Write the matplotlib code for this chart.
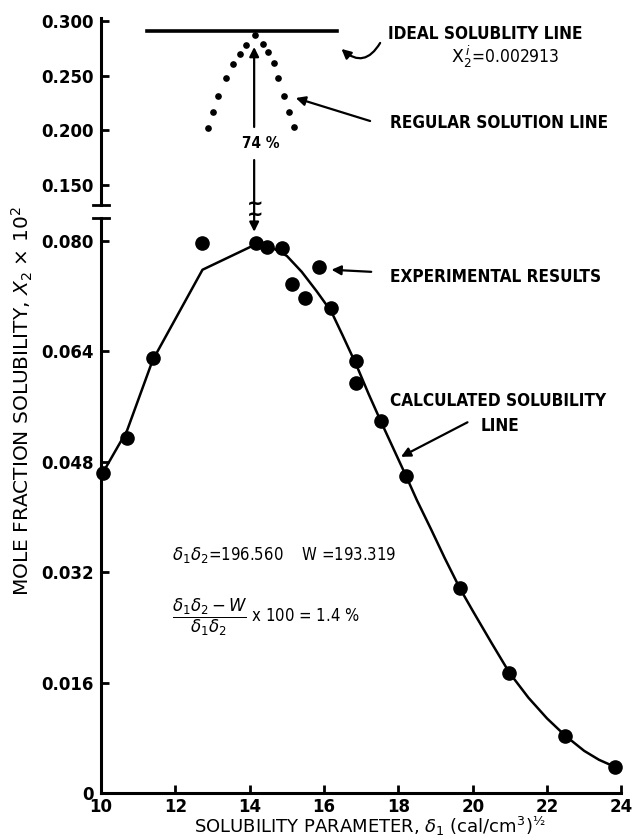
import matplotlib.pyplot as plt

plt.rcParams['font.family'] = ['DejaVu Sans']
plt.rcParams['mathtext.fontset'] = 'dejavusans'

# experimental results (solubility parameter, mole fraction x 10^2)
exp_delta = [10.05, 10.70, 11.39, 12.73, 14.17, 14.46, 14.86, 15.14, 15.50, 15.86,
             16.20, 16.87, 16.87, 17.54, 18.20, 19.65, 20.99, 22.49, 23.82]
exp_x2 = [0.0464, 0.0514, 0.0630, 0.0797, 0.0797, 0.0791, 0.0790, 0.0738, 0.0717, 0.0762,
          0.0703, 0.0626, 0.0594, 0.0539, 0.0459, 0.0297, 0.0174, 0.0083, 0.0038]

# calculated solubility line
calc_delta = [10.05, 10.70, 11.39, 12.73, 14.17, 14.60, 15.00, 15.40, 15.80, 16.20,
              16.50, 16.87, 17.20, 17.54, 17.90, 18.20, 18.50, 18.88, 19.25, 19.65,
              20.00, 20.50, 20.99, 21.50, 22.00, 22.49, 23.00, 23.40, 23.82]
calc_x2 = [0.0464, 0.0525, 0.0627, 0.0758, 0.0795, 0.0790, 0.0778, 0.0755, 0.0727, 0.0697,
           0.0663, 0.0620, 0.0578, 0.0537, 0.0495, 0.0460, 0.0424, 0.0382, 0.0340, 0.0297,
           0.0264, 0.0218, 0.0174, 0.0138, 0.0108, 0.0083, 0.0061, 0.0048, 0.0038]

# regular solution line (dotted)
reg_delta = [12.89, 13.02, 13.16, 13.37, 13.56, 13.74, 13.90, 14.14,
             14.36, 14.49, 14.65, 14.76, 14.92, 15.05, 15.19]
reg_x2 = [0.2018, 0.2165, 0.2312, 0.2477, 0.2606, 0.2697, 0.2780, 0.2872,
          0.2789, 0.2716, 0.2615, 0.2477, 0.2312, 0.2165, 0.2028]

# ideal solubility line
ideal_x2 = 0.2913
ideal_delta = [11.25, 16.35]

x_ticks = [10, 12, 14, 16, 18, 20, 22, 24]
upper_ticks = [0.150, 0.200, 0.250, 0.300]
upper_labels = ['0.150', '0.200', '0.250', '0.300']
lower_ticks = [0, 0.016, 0.032, 0.048, 0.064, 0.080]
lower_labels = ['0', '0.016', '0.032', '0.048', '0.064', '0.080']

note = dict(fontstretch='condensed', fontweight='bold', fontsize=12.3)

fig = plt.figure(figsize=(6.33, 8.4), dpi=100)
ax_top = fig.add_axes([0.1596, 0.756, 0.822, 0.2226])
ax_bot = fig.add_axes([0.1596, 0.056, 0.822, 0.6845])

for ax in (ax_top, ax_bot):
    ax.set_xlim(10, 24)
    ax.patch.set_alpha(0)
    ax.spines['top'].set_visible(False)
    ax.spines['right'].set_visible(False)
    ax.spines['left'].set_linewidth(2.2)
    ax.spines['bottom'].set_linewidth(2.2)
    ax.tick_params(direction='in', length=6, width=2, labelsize=12, pad=5)

ax_top.set_ylim(0.1313, 0.3028)
ax_top.spines['bottom'].set_visible(False)
ax_top.set_xticks([])
ax_top.set_yticks(upper_ticks)
ax_top.set_yticklabels(upper_labels, fontweight='bold')

ax_bot.set_ylim(0, 0.0833)
ax_bot.set_yticks(lower_ticks)
ax_bot.set_yticklabels(lower_labels, fontweight='bold')
ax_bot.set_xticks(x_ticks)
ax_bot.set_xticklabels([str(t) for t in x_ticks], fontweight='bold')
ax_bot.tick_params(axis='x', pad=3.5)

# axis break caps
ax_top.plot([-0.016, 0.016], [0, 0], transform=ax_top.transAxes, color='black', lw=2, clip_on=False)
ax_bot.plot([-0.016, 0.016], [1, 1], transform=ax_bot.transAxes, color='black', lw=2, clip_on=False)

# upper panel
ax_top.plot(ideal_delta, [ideal_x2, ideal_x2], color='black', lw=2.6)
ax_top.plot(reg_delta, reg_x2, 'o', color='black', ms=3.8, clip_on=False)

# lower panel
ax_bot.plot(calc_delta, calc_x2, color='black', lw=1.8, clip_on=False)
ax_bot.plot(exp_delta, exp_x2, 'o', color='black', ms=9.5, clip_on=False)

arrow = dict(arrowstyle='-|>', color='black', lw=1.6, mutation_scale=14, shrinkA=0, shrinkB=0)

# 74 % arrows
ax_top.text(14.3, 0.188, '74 %', ha='center', va='center', **dict(note, fontsize=11))
ax_top.annotate('', xy=(14.12, 0.2762), xytext=(14.12, 0.2028), arrowprops=arrow)
ax_bot.annotate('', xy=(14.12, 0.0813), xytext=(14.12, 0.1725),
                textcoords=ax_top.transData, arrowprops=arrow, annotation_clip=False)
fig.text(255 / 633, 1 - 203 / 840, '~', fontsize=14, fontweight='bold', ha='center', va='center')
fig.text(255 / 633, 1 - 214 / 840, '~', fontsize=14, fontweight='bold', ha='center', va='center')

# ideal solubility label
ax_top.text(17.72, 0.2881, 'IDEAL SOLUBLITY LINE', ha='left', va='center', **note)
ax_top.text(20.87, 0.2670, r'$\mathrm{X}_2^{\,i}$=0.002913', fontstretch='condensed',
            fontsize=12.5, ha='center', va='center')
ax_top.annotate('', xy=(16.47, 0.2744), xytext=(17.51, 0.2799),
                arrowprops=dict(arrowstyle='-|>', color='black', lw=1.6, mutation_scale=14,
                                shrinkA=0, shrinkB=0, connectionstyle='arc3,rad=-0.6'))

ax_top.text(17.77, 0.2065, 'REGULAR SOLUTION LINE', ha='left', va='center', **note)
ax_top.annotate('', xy=(15.24, 0.2294), xytext=(17.24, 0.2083), arrowprops=arrow)

ax_bot.text(17.77, 0.0748, 'EXPERIMENTAL RESULTS', ha='left', va='center', **note)
ax_bot.annotate('', xy=(16.2, 0.0758), xytext=(17.27, 0.0755), arrowprops=arrow)

ax_bot.text(17.77, 0.0568, 'CALCULATED SOLUBILITY', ha='left', va='center', **note)
ax_bot.text(20.74, 0.0532, 'LINE', ha='center', va='center', **note)
ax_bot.annotate('', xy=(18.07, 0.0487), xytext=(19.86, 0.0537), arrowprops=arrow)

ax_bot.text(11.9, 0.0345, r'$\delta_1\delta_2$=196.560    W =193.319', fontstretch='condensed',
            fontsize=12, ha='left', va='center')
ax_bot.text(11.9, 0.0255, r'$\dfrac{\delta_1\delta_2 - W}{\delta_1\delta_2}$ x 100 = 1.4 %',
            fontstretch='condensed', fontsize=12, ha='left', va='center')

# axis labels
fig.text(22 / 633, 1 - 401 / 840, r'MOLE FRACTION SOLUBILITY, $X_2$ $\times$ 10$^2$',
         rotation=90, ha='center', va='center', fontsize=14.5)
fig.text(370 / 633, 1 - 826 / 840, r'SOLUBILITY PARAMETER, $\delta_1$ (cal/cm$^3$)$^{½}$',
         ha='center', va='center', fontsize=13)

fig.savefig('out.png', dpi=100, facecolor='white')
